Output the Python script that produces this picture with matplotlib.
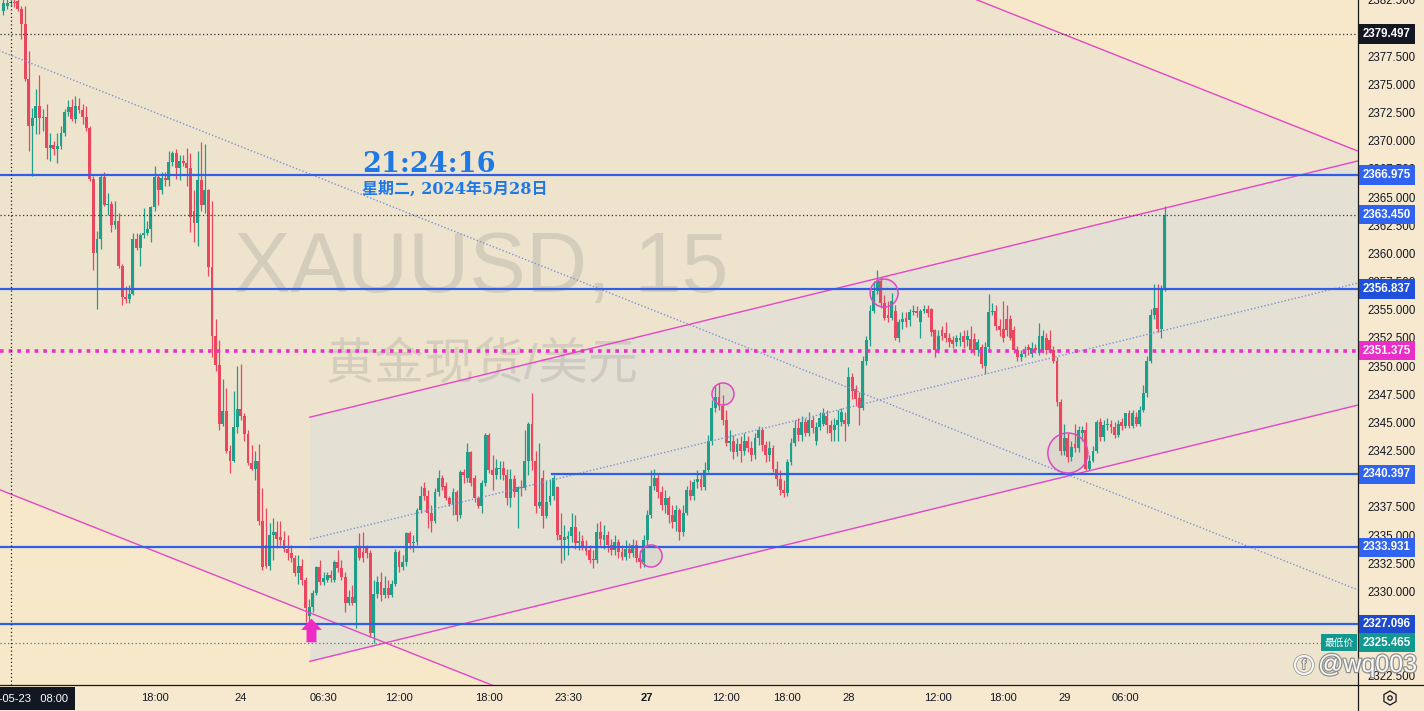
import numpy as np
import matplotlib.pyplot as plt
import matplotlib.patheffects as pe
from matplotlib.patches import Ellipse, Circle, RegularPolygon
from matplotlib.lines import Line2D
from matplotlib.path import Path
from matplotlib.transforms import IdentityTransform

plt.rcParams['font.family'] = ['Liberation Sans', 'Noto Sans CJK SC', 'DejaVu Sans']

# XAUUSD 15 分钟 K 线
opens = [
    2381.5, 2382.0, 2382.2, 2382.3, 2382.4, 2381.7, 2380.4, 2375.5, 2371.3, 2372.0,
    2373.1, 2372.0, 2372.1, 2369.4, 2369.6, 2369.3, 2369.5, 2370.7, 2372.6, 2373.0,
    2371.9, 2373.1, 2372.7, 2372.1, 2371.1, 2366.6, 2360.0, 2361.3, 2366.8, 2364.3,
    2364.4, 2362.5, 2362.9, 2358.9, 2356.1, 2356.0, 2356.4, 2361.3, 2360.5, 2361.6,
    2361.8, 2362.2, 2364.1, 2366.8, 2365.6, 2366.7, 2366.5, 2368.1, 2368.9, 2367.6,
    2368.2, 2368.0, 2367.6, 2363.8, 2362.7, 2366.5, 2364.3, 2365.6, 2358.8, 2352.7,
    2350.1, 2344.9, 2346.0, 2342.5, 2341.6, 2344.6, 2346.2, 2345.6, 2344.0, 2341.4,
    2340.9, 2341.6, 2336.3, 2334.1, 2332.3, 2335.0, 2335.3, 2334.8, 2334.6, 2333.8,
    2333.4, 2333.0, 2331.6, 2332.3, 2331.0, 2327.8, 2328.6, 2329.9, 2332.2, 2330.8,
    2331.0, 2331.5, 2331.0, 2332.6, 2332.1, 2331.3, 2329.0, 2329.5, 2329.0, 2333.9,
    2333.5, 2333.9, 2333.4, 2326.3, 2329.8, 2330.8, 2329.7, 2330.3, 2329.7, 2330.7,
    2333.5, 2332.2, 2332.6, 2335.2, 2334.3, 2334.4, 2337.2, 2339.2, 2338.5, 2337.0,
    2336.3, 2338.8, 2340.1, 2339.4, 2338.3, 2337.8, 2338.8, 2336.8, 2340.6, 2340.1,
    2342.4, 2340.1, 2338.3, 2337.6, 2339.6, 2343.9, 2340.8, 2340.3, 2340.9, 2341.0,
    2340.3, 2338.3, 2340.0, 2338.8, 2339.3, 2339.2, 2341.6, 2344.9, 2341.6, 2337.6,
    2340.1, 2336.7, 2337.9, 2338.5, 2339.3, 2335.0, 2334.6, 2334.7, 2334.9, 2335.7,
    2334.3, 2334.5, 2334.0, 2333.7, 2332.9, 2332.8, 2335.3, 2334.6, 2335.0, 2334.1,
    2333.7, 2334.4, 2333.5, 2333.1, 2333.8, 2333.4, 2334.1, 2333.0, 2332.6, 2334.6,
    2336.8, 2339.4, 2340.1, 2338.8, 2337.7, 2338.3, 2336.8, 2336.2, 2337.2, 2335.3,
    2337.0, 2339.0, 2338.5, 2339.7, 2340.0, 2339.3, 2340.8, 2343.4, 2346.3, 2347.3,
    2346.5, 2345.2, 2343.2, 2343.4, 2342.4, 2343.1, 2342.5, 2343.4, 2342.7, 2342.1,
    2343.6, 2344.3, 2343.0, 2342.1, 2342.7, 2340.9, 2340.0, 2339.0, 2338.7, 2341.5,
    2343.2, 2344.5, 2343.9, 2345.0, 2344.1, 2345.2, 2343.4, 2344.6, 2344.9, 2345.6,
    2344.8, 2344.3, 2344.8, 2345.0, 2345.2, 2344.9, 2349.0, 2348.0, 2347.2, 2346.3,
    2350.5, 2352.3, 2354.9, 2356.7, 2357.6, 2355.6, 2354.5, 2354.3, 2354.9, 2352.5,
    2353.9, 2354.3, 2354.1, 2354.8, 2354.9, 2353.9, 2354.9, 2355.1, 2355.1, 2353.2,
    2351.4, 2353.2, 2352.9, 2352.5, 2352.3, 2352.1, 2352.3, 2352.7, 2352.3, 2352.4,
    2352.4, 2351.4, 2351.7, 2350.0, 2351.7, 2354.8, 2354.9, 2353.6, 2353.3, 2354.2,
    2354.2, 2353.2, 2351.4, 2350.8, 2351.1, 2351.7, 2351.1, 2351.6, 2351.2, 2351.4,
    2352.5, 2352.3, 2351.4, 2350.5, 2346.8, 2342.5, 2343.6, 2341.9, 2343.1, 2342.7,
    2344.1, 2344.3, 2340.9, 2341.6, 2342.5, 2345.0, 2343.7, 2344.8, 2344.9, 2344.6,
    2343.9, 2345.0, 2344.7, 2345.8, 2344.7, 2345.5, 2344.9, 2346.1, 2347.6, 2350.5,
    2354.5, 2355.2, 2353.3, 2356.9,
]
highs = [
    2382.6, 2382.6, 2382.8, 2382.6, 2383.0, 2382.0, 2382.0, 2378.0, 2372.9, 2374.6,
    2375.8, 2372.8, 2373.3, 2370.7, 2370.0, 2370.7, 2371.3, 2372.8, 2373.6, 2373.7,
    2374.0, 2373.8, 2373.3, 2373.1, 2371.3, 2366.9, 2362.0, 2367.1, 2367.2, 2365.4,
    2364.7, 2364.7, 2363.6, 2359.1, 2357.1, 2357.2, 2361.8, 2361.8, 2361.8, 2364.0,
    2362.9, 2364.2, 2367.8, 2367.1, 2367.2, 2367.2, 2369.1, 2369.1, 2369.3, 2368.7,
    2368.7, 2369.4, 2368.9, 2365.6, 2369.1, 2369.9, 2369.7, 2365.7, 2364.7, 2354.2,
    2352.3, 2348.9, 2348.1, 2343.0, 2347.8, 2350.0, 2350.2, 2345.8, 2344.3, 2343.0,
    2342.5, 2343.1, 2339.2, 2337.4, 2336.1, 2336.5, 2336.3, 2336.3, 2335.4, 2335.0,
    2334.1, 2333.2, 2333.2, 2332.9, 2331.3, 2329.3, 2330.1, 2332.3, 2332.8, 2331.7,
    2331.7, 2331.9, 2332.8, 2333.7, 2332.8, 2331.7, 2330.1, 2330.6, 2334.1, 2335.2,
    2335.3, 2334.1, 2333.7, 2331.0, 2331.4, 2331.7, 2331.4, 2331.0, 2331.0, 2333.8,
    2333.7, 2333.2, 2335.3, 2335.4, 2335.0, 2337.4, 2339.4, 2339.7, 2339.0, 2337.7,
    2339.2, 2340.8, 2340.3, 2339.7, 2338.5, 2339.2, 2339.0, 2340.8, 2340.9, 2343.2,
    2342.5, 2340.3, 2338.5, 2339.9, 2344.1, 2344.1, 2342.1, 2341.8, 2341.6, 2341.6,
    2340.9, 2340.9, 2340.3, 2339.4, 2339.9, 2344.3, 2345.0, 2347.6, 2342.5, 2343.2,
    2340.8, 2339.9, 2340.0, 2340.3, 2339.4, 2337.0, 2335.9, 2335.4, 2337.0, 2336.8,
    2335.4, 2335.0, 2334.6, 2334.1, 2333.7, 2336.1, 2336.3, 2335.9, 2335.4, 2334.7,
    2335.0, 2334.7, 2334.1, 2334.6, 2334.3, 2334.7, 2334.6, 2333.7, 2335.0, 2337.2,
    2340.8, 2340.9, 2340.5, 2339.4, 2339.0, 2338.5, 2337.7, 2337.7, 2337.4, 2337.7,
    2339.4, 2339.9, 2340.0, 2340.8, 2340.4, 2341.5, 2343.9, 2347.0, 2348.2, 2348.5,
    2347.4, 2346.1, 2344.3, 2343.9, 2343.6, 2343.8, 2344.1, 2343.8, 2343.4, 2344.1,
    2344.7, 2344.6, 2343.4, 2343.4, 2343.0, 2341.6, 2340.8, 2339.9, 2341.8, 2343.6,
    2345.2, 2345.4, 2345.6, 2345.4, 2345.9, 2345.6, 2345.0, 2345.9, 2346.3, 2346.1,
    2345.2, 2345.4, 2346.1, 2346.3, 2345.9, 2349.9, 2349.4, 2348.3, 2347.7, 2350.9,
    2352.7, 2355.4, 2357.6, 2358.5, 2357.9, 2356.3, 2355.8, 2356.5, 2355.4, 2354.2,
    2354.8, 2354.8, 2355.1, 2355.4, 2355.3, 2355.1, 2355.4, 2355.4, 2355.2, 2353.3,
    2353.2, 2353.6, 2353.9, 2352.9, 2352.7, 2352.8, 2353.0, 2353.2, 2353.2, 2353.6,
    2352.9, 2352.4, 2352.0, 2352.1, 2356.4, 2355.6, 2355.4, 2354.2, 2355.8, 2355.4,
    2354.5, 2353.6, 2351.8, 2351.4, 2351.8, 2352.0, 2352.1, 2352.0, 2353.8, 2353.2,
    2352.9, 2353.2, 2351.8, 2350.8, 2347.1, 2344.9, 2344.1, 2343.4, 2344.9, 2344.7,
    2344.7, 2345.0, 2342.1, 2342.9, 2345.2, 2345.4, 2345.2, 2345.4, 2345.2, 2345.0,
    2345.2, 2345.4, 2345.8, 2346.1, 2346.1, 2345.9, 2346.5, 2348.3, 2350.9, 2355.1,
    2357.3, 2357.3, 2357.2, 2364.2,
]
lows = [
    2381.2, 2381.7, 2382.0, 2381.9, 2381.5, 2379.0, 2375.3, 2369.1, 2366.9, 2370.6,
    2370.6, 2370.9, 2368.4, 2368.2, 2368.7, 2368.0, 2369.3, 2370.4, 2372.2, 2371.8,
    2371.6, 2372.5, 2371.5, 2370.9, 2366.4, 2358.5, 2355.1, 2360.4, 2364.2, 2363.4,
    2361.9, 2362.2, 2358.7, 2355.4, 2355.6, 2355.6, 2356.3, 2360.3, 2358.9, 2361.4,
    2361.6, 2361.0, 2363.8, 2364.3, 2365.3, 2366.0, 2366.0, 2367.8, 2366.6, 2366.5,
    2367.8, 2366.0, 2361.9, 2361.0, 2360.7, 2363.8, 2363.6, 2358.0, 2350.8, 2349.6,
    2344.3, 2344.7, 2342.3, 2340.5, 2341.5, 2344.1, 2345.2, 2343.4, 2341.2, 2340.8,
    2339.9, 2335.9, 2331.9, 2332.1, 2331.9, 2332.8, 2333.9, 2334.1, 2333.5, 2332.8,
    2332.6, 2331.4, 2330.7, 2330.6, 2327.3, 2327.2, 2328.2, 2329.7, 2330.6, 2330.6,
    2330.8, 2330.8, 2330.8, 2331.7, 2331.0, 2328.2, 2328.8, 2328.8, 2326.8, 2332.8,
    2332.6, 2333.0, 2326.0, 2325.465, 2329.4, 2329.2, 2329.4, 2329.4, 2329.5, 2330.5,
    2331.7, 2331.9, 2332.3, 2333.8, 2333.5, 2334.1, 2337.0, 2338.1, 2335.6, 2335.3,
    2336.1, 2338.5, 2339.0, 2338.1, 2337.6, 2336.8, 2336.3, 2336.5, 2339.6, 2339.7,
    2339.4, 2337.9, 2337.4, 2337.0, 2339.4, 2340.5, 2339.0, 2340.0, 2340.0, 2339.9,
    2337.7, 2337.5, 2338.4, 2335.6, 2338.5, 2339.0, 2340.3, 2340.8, 2337.0, 2337.4,
    2335.6, 2336.5, 2337.7, 2338.1, 2334.6, 2332.5, 2332.8, 2333.2, 2334.4, 2333.8,
    2333.7, 2333.7, 2333.2, 2332.5, 2332.1, 2332.5, 2334.1, 2333.8, 2333.5, 2333.2,
    2333.2, 2333.0, 2332.8, 2332.8, 2333.0, 2333.1, 2332.6, 2332.1, 2332.2, 2334.1,
    2336.5, 2339.0, 2338.3, 2337.2, 2337.0, 2336.1, 2335.6, 2335.4, 2334.6, 2334.9,
    2336.8, 2338.1, 2338.1, 2339.2, 2339.0, 2339.0, 2340.6, 2343.0, 2345.9, 2346.1,
    2344.8, 2342.9, 2342.5, 2341.8, 2342.0, 2341.5, 2342.1, 2342.4, 2341.6, 2341.8,
    2343.0, 2342.5, 2341.5, 2341.6, 2340.6, 2339.4, 2338.6, 2338.4, 2338.5, 2341.2,
    2342.9, 2343.4, 2343.4, 2343.8, 2343.8, 2344.1, 2343.0, 2344.3, 2344.7, 2344.1,
    2343.4, 2343.4, 2343.4, 2344.7, 2343.4, 2344.7, 2347.1, 2346.5, 2344.8, 2346.1,
    2350.1, 2351.8, 2354.7, 2356.4, 2355.2, 2354.1, 2353.9, 2354.1, 2352.3, 2352.1,
    2353.3, 2353.5, 2353.6, 2354.5, 2354.4, 2352.5, 2354.7, 2354.4, 2352.7, 2350.8,
    2351.2, 2352.3, 2352.1, 2351.7, 2351.6, 2351.8, 2351.8, 2351.6, 2351.8, 2351.2,
    2351.0, 2350.9, 2349.8, 2349.3, 2351.4, 2354.5, 2353.2, 2352.7, 2352.1, 2352.7,
    2352.3, 2351.2, 2350.5, 2350.5, 2350.8, 2351.0, 2350.8, 2351.2, 2351.0, 2351.2,
    2351.1, 2351.2, 2350.3, 2346.5, 2342.1, 2342.1, 2341.5, 2341.6, 2342.4, 2342.4,
    2343.4, 2340.8, 2340.8, 2341.5, 2342.3, 2343.4, 2343.4, 2344.3, 2344.1, 2343.6,
    2343.7, 2344.3, 2344.5, 2344.5, 2344.5, 2344.7, 2344.7, 2345.9, 2347.3, 2350.3,
    2354.2, 2353.0, 2352.5, 2356.7,
]
closes = [
    2382.2, 2382.2, 2382.3, 2382.2, 2381.7, 2380.4, 2375.5, 2371.3, 2372.0, 2373.1,
    2372.0, 2372.1, 2369.4, 2369.6, 2369.3, 2369.5, 2370.7, 2372.6, 2373.0, 2371.9,
    2373.1, 2372.7, 2372.1, 2371.1, 2366.6, 2360.0, 2361.3, 2366.8, 2364.3, 2364.4,
    2362.5, 2362.9, 2358.9, 2356.1, 2356.0, 2356.4, 2361.3, 2360.5, 2361.6, 2361.8,
    2362.2, 2364.1, 2366.8, 2365.6, 2366.7, 2366.5, 2368.1, 2368.9, 2367.6, 2368.2,
    2368.0, 2367.6, 2363.2, 2362.7, 2366.5, 2364.3, 2365.6, 2358.8, 2352.7, 2350.1,
    2344.9, 2346.0, 2342.5, 2341.6, 2344.6, 2346.2, 2345.6, 2344.0, 2341.4, 2340.9,
    2341.6, 2336.3, 2332.2, 2332.3, 2335.0, 2335.3, 2334.7, 2334.6, 2333.8, 2333.4,
    2333.0, 2331.6, 2332.3, 2331.0, 2328.5, 2328.6, 2329.9, 2332.2, 2330.8, 2331.2,
    2331.5, 2331.2, 2332.6, 2332.1, 2331.3, 2329.0, 2329.5, 2329.0, 2333.9, 2333.0,
    2333.0, 2333.4, 2326.3, 2329.8, 2330.8, 2329.7, 2330.3, 2329.7, 2330.7, 2333.5,
    2332.2, 2332.6, 2335.2, 2334.3, 2334.4, 2337.2, 2338.5, 2338.5, 2337.0, 2336.3,
    2338.8, 2340.1, 2339.3, 2338.3, 2337.8, 2338.8, 2336.8, 2340.6, 2340.3, 2342.4,
    2339.6, 2338.3, 2337.6, 2339.6, 2343.9, 2340.8, 2340.3, 2341.0, 2341.0, 2340.3,
    2338.3, 2340.0, 2338.8, 2339.3, 2339.2, 2341.6, 2344.9, 2341.6, 2337.6, 2337.9,
    2336.7, 2337.9, 2338.5, 2340.1, 2335.0, 2334.6, 2334.8, 2334.9, 2335.7, 2334.3,
    2334.5, 2334.0, 2333.6, 2332.8, 2332.8, 2335.3, 2334.7, 2335.0, 2334.1, 2333.7,
    2334.4, 2333.5, 2333.1, 2333.8, 2333.4, 2334.1, 2333.0, 2332.6, 2334.6, 2336.8,
    2339.4, 2340.1, 2338.8, 2337.7, 2338.3, 2336.8, 2336.2, 2337.2, 2335.3, 2337.0,
    2339.0, 2338.5, 2339.7, 2340.0, 2339.3, 2340.8, 2343.4, 2346.3, 2347.3, 2346.5,
    2345.2, 2343.2, 2343.4, 2342.4, 2343.1, 2342.5, 2343.4, 2342.7, 2342.1, 2343.6,
    2344.3, 2343.0, 2342.1, 2342.7, 2340.9, 2340.0, 2339.0, 2338.7, 2341.5, 2343.2,
    2344.5, 2343.9, 2345.0, 2344.1, 2345.2, 2344.5, 2344.6, 2345.4, 2345.8, 2344.8,
    2344.1, 2344.8, 2345.2, 2345.9, 2344.9, 2349.0, 2347.8, 2347.1, 2346.3, 2350.5,
    2352.3, 2354.9, 2356.7, 2357.6, 2355.6, 2354.3, 2354.3, 2355.8, 2352.5, 2353.9,
    2354.2, 2353.9, 2354.8, 2354.9, 2354.7, 2354.9, 2355.1, 2354.7, 2353.0, 2351.4,
    2352.7, 2352.7, 2352.5, 2352.1, 2352.0, 2352.5, 2352.5, 2352.1, 2352.7, 2351.4,
    2351.4, 2352.1, 2350.2, 2351.7, 2354.8, 2354.9, 2353.6, 2353.2, 2352.5, 2353.2,
    2352.5, 2351.4, 2350.8, 2351.1, 2351.4, 2351.4, 2351.6, 2351.4, 2352.7, 2352.7,
    2351.4, 2351.4, 2350.5, 2346.8, 2342.5, 2343.6, 2341.9, 2342.8, 2342.7, 2344.3,
    2344.3, 2340.9, 2341.6, 2342.5, 2345.0, 2343.7, 2344.8, 2344.9, 2344.6, 2343.9,
    2344.9, 2344.7, 2345.8, 2344.7, 2345.8, 2344.9, 2346.1, 2347.6, 2350.5, 2354.5,
    2355.2, 2353.3, 2356.9, 2363.45,
]

# 时间轴刻度 (K 线序号) 与标签
tick_bars = [16, 42, 66, 89, 110, 135, 157, 179, 201, 218, 235, 260, 278, 295, 312]
tick_labels = ['12:00', '18:00', '24', '06:30', '12:00', '18:00', '23:30', '27',
               '12:00', '18:00', '28', '12:00', '18:00', '29', '06:00']

# 画线: 水平线 / 通道 / 圆圈
blue_levels = [2366.975, 2356.837, 2333.931, 2327.096]
level_2340 = 2340.397
level_2340_start = 152.5
dotted_levels = [2379.497, 2363.450]
low_price = 2325.465
mid_level = 2351.375

desc_p1, desc_p2, desc_height = (0, 2338.9), (300, 2300.9), 77.9
asc_p1, asc_p2, asc_height = (85.2, 2323.8), (376.7, 2346.55), 21.67

circle_bars = [244.9, 200.1, 180.1, 296.0]
circle_prices = [2356.49, 2347.53, 2333.15, 2342.29]
circle_r_px = [14, 11, 11, 20]

price_tags = [(2379.497, '#131722'), (2366.975, '#2f63f0'), (2363.450, '#2f63f0'),
              (2356.837, '#1f50dc'), (2351.375, '#e92fc8'), (2340.397, '#2f63f0'),
              (2333.931, '#2f63f0'), (2327.096, '#1c4bd0'), (2325.465, '#11998f')]

assert len(opens) == len(highs) == len(lows) == len(closes)
o, h, l, c = (np.array(v) for v in (opens, highs, lows, closes))
idx = np.arange(len(c))

W, H = 1424, 711
fig = plt.figure(figsize=(W / 100, H / 100), dpi=100, facecolor='#f6e9cf')
ax = fig.add_axes([0, 26 / H, 1358 / W, 685 / H])
ax.set_facecolor('#f7e8ca')
x0, x1 = -0.97, 376.7
y0, y1 = 2321.7, 2382.5
ax.set_xlim(x0, x1)
ax.set_ylim(y0, y1)
px_bar = 1358 / (x1 - x0)
px_price = 685 / (y1 - y0)


def line_through(p1, p2, xs):
    k = (p2[1] - p1[1]) / (p2[0] - p1[0])
    return p1[1] + k * (xs - p1[0])


# 下降通道
xs = np.array([x0 - 5, x1 + 5])
lo = line_through(desc_p1, desc_p2, xs)
ax.fill_between(xs, lo, lo + desc_height, color='#eee4cd', lw=0, zorder=0.5)
ax.plot(xs, lo, color='#e446c6', lw=1, zorder=3)
ax.plot(xs, lo + desc_height, color='#e446c6', lw=1, zorder=3)
ax.plot(xs, lo + desc_height / 2, color='#7f92d8', lw=1, ls=(0, (1, 1.5)), zorder=3)

# 上升通道
xs2 = np.array([asc_p1[0], x1 + 5])
lo2 = line_through(asc_p1, asc_p2, xs2)
ax.fill_between(xs2, lo2, lo2 + asc_height, color='#e4e0d4', lw=0, zorder=0.6)
ax.plot(xs2, lo2, color='#e446c6', lw=1, zorder=3)
ax.plot(xs2, lo2 + asc_height, color='#e446c6', lw=1, zorder=3)
ax.plot(xs2, lo2 + asc_height / 2, color='#7f92d8', lw=1, ls=(0, (1, 1.5)), zorder=3)

# 水印
ax.text(0.354, 0.574, 'XAUUSD, 15', transform=ax.transAxes, ha='center', va='baseline',
        fontsize=61, color='#7f7f7f', alpha=0.22, zorder=1)
ax.text(0.354, 0.467, '黄金现货/美元', transform=ax.transAxes, ha='center', va='center',
        fontsize=36, color='#7f7f7f', alpha=0.22, zorder=1)

# K 线
up = c >= o
cols = np.where(up, '#1f9e8a', '#e8475e')
ax.vlines(idx, l, h, colors=cols, lw=0.9, zorder=2)
ax.bar(idx, np.maximum(np.abs(c - o), 0.06), bottom=np.minimum(o, c), width=0.8,
       color=cols, lw=0, zorder=2.1)

# 水平线
for lv in blue_levels:
    ax.axhline(lv, color='#2f5fe8', lw=1.6, zorder=3)
ax.plot([level_2340_start, x1 + 5], [level_2340, level_2340], color='#2f5fe8', lw=1.6, zorder=3)
for lv in dotted_levels:
    ax.axhline(lv, color='#333333', lw=0.9, ls=(0, (1, 2)), zorder=3)
ax.axhline(low_price, color='#169c8c', lw=0.9, ls=(0, (1, 2)), zorder=3)
ax.axhline(mid_level, color='#e930c8', lw=2.6, ls=(0, (1, 1.4)), zorder=3)
ax.axvline(2, color='#222222', lw=0.9, ls=(0, (1, 2)), zorder=3)

# 圆圈标记
for b, p, r in zip(circle_bars, circle_prices, circle_r_px):
    ax.add_patch(Ellipse((b, p), 2 * r / px_bar, 2 * r / px_price, fc=(0.5, 0.5, 0.5, 0.08),
                         ec='#e046c2', lw=1.1, zorder=3.5))

# 箭头
arrow = Path([(0, 1), (0.87, 0.05), (0.42, 0.05), (0.42, -1), (-0.42, -1),
              (-0.42, 0.05), (-0.87, 0.05), (0, 1)])
ax.scatter([85.5], [2326.58], marker=arrow, s=290, color='#f02ac6', lw=0, zorder=4)

# 时间文字
ax.text(99.7, 2367.9, '21:24:16', fontsize=19.5, fontweight='bold', family='DejaVu Serif',
        color='#1e78e6', ha='left', va='center', zorder=5)
ax.text(99.7, 2365.7, '星期二, 2024年5月28日', fontsize=11.5, fontweight='bold',
        family=['DejaVu Serif', 'Noto Sans CJK SC'], color='#1e78e6', ha='left',
        va='center', zorder=5)

# 坐标轴
for s in ['top', 'left']:
    ax.spines[s].set_visible(False)
ax.spines['right'].set_color('#1a1a1a')
ax.spines['bottom'].set_color('#1a1a1a')
ax.spines['right'].set_linewidth(0.9)
ax.spines['bottom'].set_linewidth(0.9)
ax.yaxis.tick_right()
ax.set_yticks(np.arange(2322.5, 2382.51, 2.5))
ax.set_yticklabels([f'{v:.3f}' for v in np.arange(2322.5, 2382.51, 2.5)])
ax.tick_params(axis='y', length=0, pad=7, labelsize=8.3, labelcolor='#131722')
ax.set_xticks(tick_bars)
ax.set_xticklabels(tick_labels)
ax.tick_params(axis='x', length=0, pad=6, labelsize=8, labelcolor='#131722')
ax.get_xticklabels()[tick_labels.index('27')].set_fontweight('bold')

# 右侧价格标签
ytr = ax.get_yaxis_transform()
for p, col in price_tags:
    ax.text(1 + 5 / 1358, p, f'{p:.3f}', transform=ytr, ha='left', va='center', color='white',
            fontsize=8.3, fontweight='bold', clip_on=False, zorder=10,
            bbox=dict(boxstyle='square,pad=0.32', fc=col, ec='none'))
ax.text(1 - 4 / 1358, low_price, '最低价', transform=ytr, ha='right', va='center', color='white',
        fontsize=7, clip_on=False, zorder=10,
        bbox=dict(boxstyle='square,pad=0.35', fc='#11998f', ec='none'))

# 底部: 日期框, 设置图标, 分隔线
fig.add_artist(Line2D([1358 / W, 1358 / W], [0, 26 / H], color='#1a1a1a', lw=0.9))
fig.add_artist(Line2D([1358 / W, 1], [26 / H, 26 / H], color='#1a1a1a', lw=0.9))
fig.text(68 / W, 12.5 / H, '2024-05-23   08:00', ha='right', va='center', color='white',
         fontsize=8, bbox=dict(boxstyle='square,pad=0.6', fc='#131722', ec='none'))
fig.add_artist(RegularPolygon((1390, 13), 6, radius=7, orientation=0, fill=False,
                              ec='#131722', lw=0.9, transform=IdentityTransform()))
fig.add_artist(Circle((1390, 13), 2.2, fill=False, ec='#131722', lw=0.9,
                      transform=IdentityTransform()))

# 右下角水印
fig.add_artist(Circle((1304, 46), 9, fill=False, ec='white', lw=1.6, alpha=0.9,
                      transform=IdentityTransform(),
                      path_effects=[pe.withStroke(linewidth=2.6, foreground='#8a8a8a')]))
fig.text(1304 / W, 46 / H, 'f', ha='center', va='center', fontsize=10, color='white',
         path_effects=[pe.withStroke(linewidth=1.5, foreground='#8a8a8a')])
fig.text(1318 / W, 46 / H, '@wq003', ha='left', va='center', fontsize=18, color='white',
         alpha=0.95, path_effects=[pe.withStroke(linewidth=1.8, foreground='#8a8a8a')])

fig.savefig('out.png', dpi=100, facecolor=fig.get_facecolor())
